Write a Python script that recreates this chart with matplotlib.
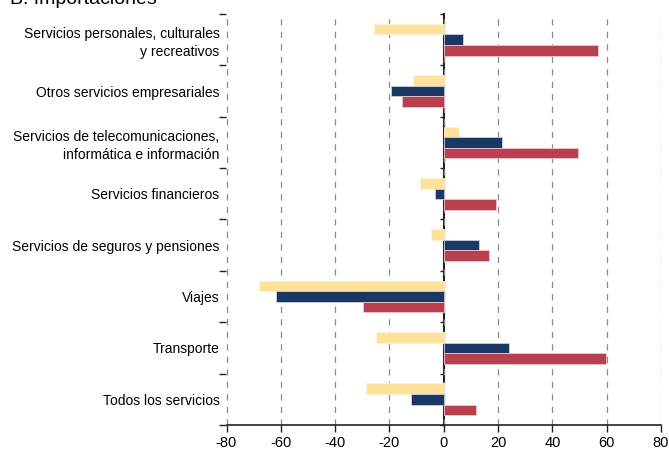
import numpy as np
import matplotlib
matplotlib.use("Agg")
import matplotlib.pyplot as plt

plt.rcParams['font.family'] = ['Liberation Sans', 'DejaVu Sans']

categories = [
    "Servicios personales, culturales\ny recreativos",
    "Otros servicios empresariales",
    "Servicios de telecomunicaciones,\ninformática e información",
    "Servicios financieros",
    "Servicios de seguros y pensiones",
    "Viajes",
    "Transporte",
    "Todos los servicios",
]
serie_amarilla = [-25.7, -11.3, 5.5, -8.8, -4.8, -68.0, -24.9, -28.8]
serie_azul = [7.1, -19.3, 21.5, -3.2, 12.8, -61.6, 23.9, -11.9]
serie_roja = [56.8, -15.2, 49.5, 19.2, 16.7, -29.6, 59.9, 11.9]
xticks = [-80, -60, -40, -20, 0, 20, 40, 60, 80]

fig = plt.figure(figsize=(6.69, 4.54), dpi=100)
ax = fig.add_axes([226.5 / 669, 1 - 425 / 454, (661 - 226.5) / 669, (425 - 14) / 454])

n = len(categories)
y = np.arange(n)
h = 0.206
ax.barh(y - h, serie_amarilla, height=h, color="#FFE29A", edgecolor="#FFF3D6", linewidth=0.6, zorder=3)
ax.barh(y, serie_azul, height=h, color="#1B3764", edgecolor="#C9D0DD", linewidth=0.6, zorder=3)
ax.barh(y + h, serie_roja, height=h, color="#B9404F", edgecolor="#EBC7CC", linewidth=0.6, zorder=3)

ax.set_ylim(n - 0.5, -0.5)
ax.set_xlim(-80, 80)
ax.set_xticks(xticks)
ax.set_xticklabels([str(v) for v in xticks], fontsize=10.5)
ax.xaxis.grid(True, linestyle=(0, (5, 5)), color="#8a8a8a", linewidth=0.9)

# category labels at centres, tick marks at boundaries
ax.set_yticks(y)
ax.set_yticklabels(categories, fontsize=10.0, ha="right", linespacing=1.35)
ax.tick_params(axis="y", which="major", length=0, pad=5)
ax.set_yticks(np.arange(n + 1) - 0.5, minor=True)
ax.tick_params(axis="y", which="minor", length=5, width=1, color="#222222", direction="out")
ax.tick_params(axis="x", length=5, width=1, color="#222222", pad=3)

for s in ["top", "right", "left"]:
    ax.spines[s].set_visible(False)
ax.spines["bottom"].set_linewidth(1.2)
ax.spines["bottom"].set_color("#222222")

# zero line with small ticks pointing left
zero = ax.secondary_yaxis(0.4999)
zero.spines["left"].set_linewidth(1.5)
zero.spines["left"].set_color("#222222")
zero.yaxis.set_ticks_position("left")
zero.set_yticks(np.arange(n + 1) - 0.5)
zero.set_yticklabels([])
zero.tick_params(axis="y", length=3, width=1, color="#222222", direction="out")

fig.text(0.015, 1.0, "B. Importaciones", fontsize=14, ha="left", va="center")

fig.savefig("out.png", dpi=100)
